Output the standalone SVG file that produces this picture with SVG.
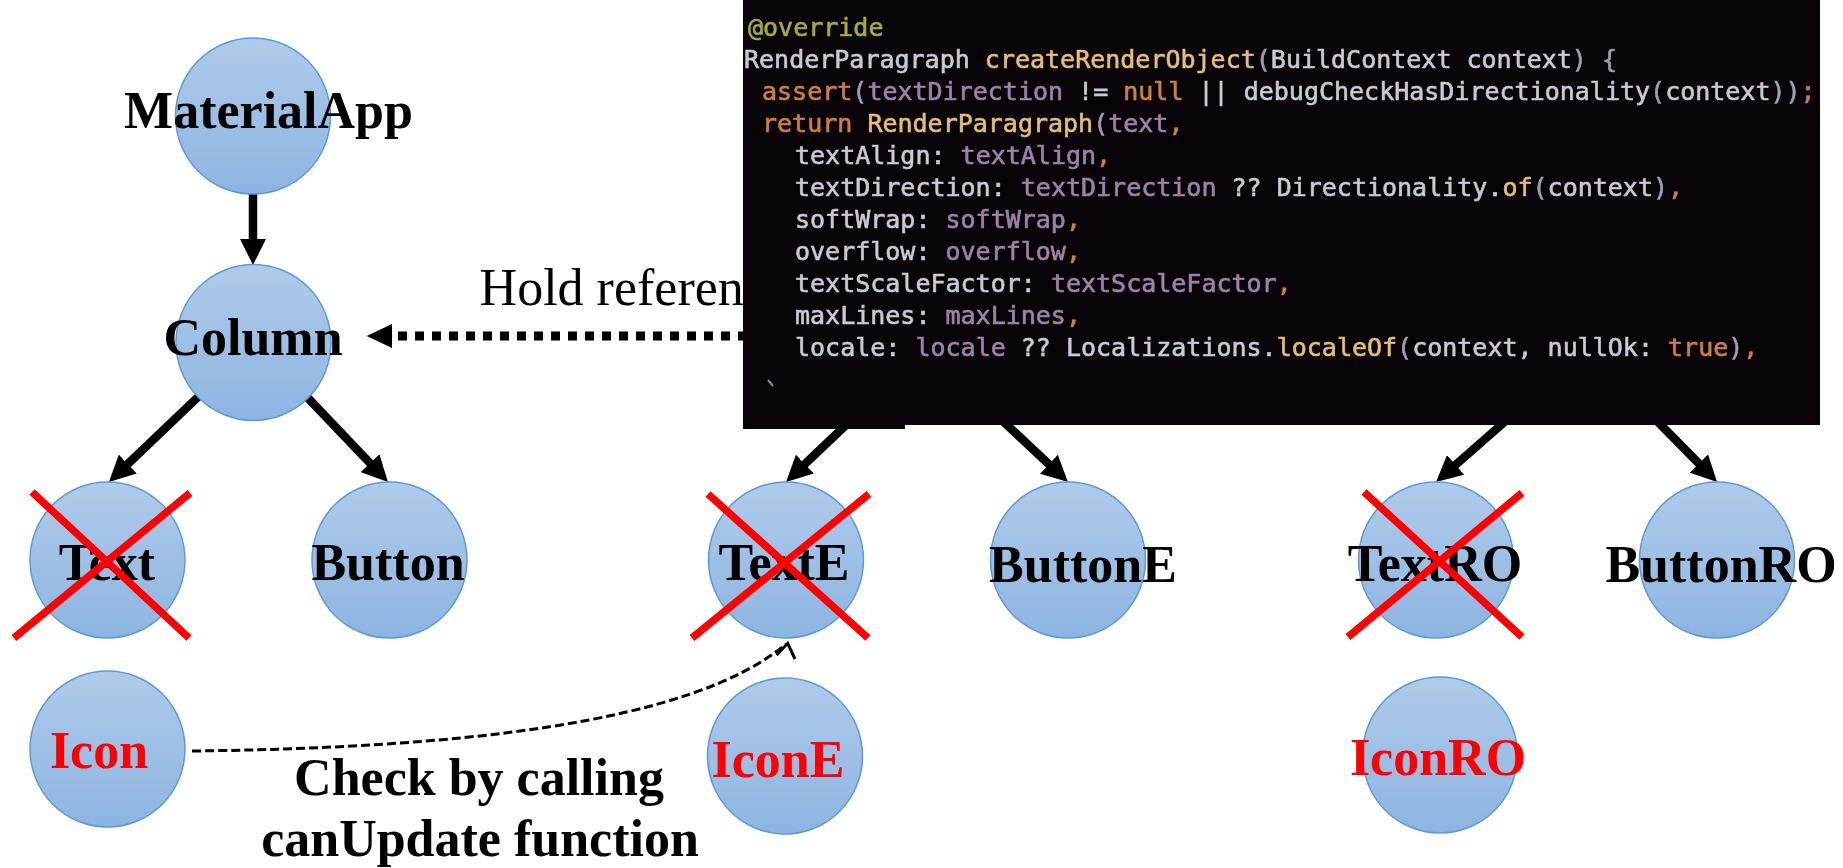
<svg xmlns="http://www.w3.org/2000/svg" width="1843" height="868" viewBox="0 0 1843 868">
  <defs>
    <linearGradient id="nodeFill" x1="0" y1="0" x2="0" y2="1">
      <stop offset="0" stop-color="#AFCBEA"/>
      <stop offset="1" stop-color="#8DB4E1"/>
    </linearGradient>
    <marker id="arrow" markerUnits="userSpaceOnUse" markerWidth="26" markerHeight="26" viewBox="0 0 26 26" refX="11" refY="13" orient="auto">
      <path d="M0,0 L26,13 L0,26 z" fill="#000"/>
    </marker>
    <filter id="soft" x="-2%" y="-2%" width="104%" height="104%">
      <feGaussianBlur stdDeviation="0.55"/>
    </filter>
  </defs>
  <style>
    .node ellipse { fill: url(#nodeFill); stroke: #5B9BD5; stroke-width: 1.5; }
    .lbl { font-family: "Liberation Serif", "Times New Roman", serif; font-weight: bold; font-size: 52px; text-anchor: middle; fill: #000; }
    .lbl.red { fill: #FF0000; }
    .note { font-family: "Liberation Serif", "Times New Roman", serif; font-size: 52px; fill: #000; }
    .cross { stroke: #FF0000; stroke-width: 7.5; fill: none; }
    .edge { stroke: #000; stroke-width: 8.5; fill: none; marker-end: url(#arrow); }
    .ref { stroke: #000; stroke-width: 9; stroke-dasharray: 9 8; fill: none; }
    .check { stroke: #000; stroke-width: 3; stroke-dasharray: 9 4; fill: none; }
    .code { font-family: "DejaVu Sans Mono", "Liberation Mono", monospace; font-size: 25px; white-space: pre; fill: #CBCAD2; stroke: #CBCAD2; stroke-width: 0.6; }
    .an { fill: #A5AC40; stroke: #A5AC40; }
    .kw { fill: #D0803C; stroke: #D0803C; }
    .fn { fill: #E6BF72; stroke: #E6BF72; }
    .fd { fill: #9C84A8; stroke: #9C84A8; }
    .pn { fill: #A29FB0; stroke: #A29FB0; }
  </style>

  <!-- connectors -->
  <g id="connectors">
    <line class="edge" x1="253" y1="193" x2="253" y2="250"/>
    <line class="edge" x1="198" y1="397" x2="119.8" y2="471.6"/>
    <line class="edge" x1="307" y1="397" x2="377.6" y2="471.1"/>
    <line class="edge" x1="858.5" y1="413.2" x2="796.9" y2="471.7"/>
    <line class="edge" x1="994.9" y1="413.7" x2="1057" y2="471.8"/>
    <line class="edge" x1="1511.2" y1="416.1" x2="1447.3" y2="472.1"/>
    <line class="edge" x1="1646.9" y1="410.7" x2="1706.5" y2="471.3"/>

    <!-- reference held by the element -->
    <line class="ref" x1="398" y1="336" x2="760" y2="336"/>
    <polygon points="366.7,336 392,324 392,348" fill="#000"/>
    <text class="note" x="479.6" y="305">Hold referen</text>

    <!-- canUpdate check -->
    <path class="check" d="M192,751 C450,748 690,725 786,644"/>
    <polyline points="776.7,655 787.7,643.3 795,659" fill="none" stroke="#000" stroke-width="3"/>
    <text class="lbl" x="479" y="795">Check by calling</text>
    <text class="lbl" x="480" y="856">canUpdate function</text>
  </g>

  <!-- widget tree -->
  <g id="node-materialapp" class="node">
    <ellipse cx="253" cy="116" rx="77.5" ry="78"/>
    <text class="lbl" x="268.5" y="128">MaterialApp</text>
  </g>
  <g id="node-column" class="node">
    <ellipse cx="253.5" cy="342.5" rx="77.5" ry="78"/>
    <text class="lbl" x="253" y="355">Column</text>
  </g>
  <g id="node-text" class="node">
    <ellipse cx="107.5" cy="560" rx="77.5" ry="78"/>
    <text class="lbl" x="107" y="580">Text</text>
    <line class="cross" x1="32" y1="492" x2="189" y2="638"/>
    <line class="cross" x1="14" y1="638" x2="190" y2="493"/>
  </g>
  <g id="node-button" class="node">
    <ellipse cx="389.5" cy="560" rx="77.5" ry="78"/>
    <text class="lbl" x="388" y="580">Button</text>
  </g>
  <g id="node-icon" class="node">
    <ellipse cx="107.5" cy="749" rx="77.5" ry="78"/>
    <text class="lbl red" x="99" y="768">Icon</text>
  </g>

  <!-- element tree -->
  <g id="node-texte" class="node">
    <ellipse cx="786" cy="560" rx="77.5" ry="78"/>
    <text class="lbl" x="784" y="580">TextE</text>
    <line class="cross" x1="708" y1="494" x2="868" y2="638"/>
    <line class="cross" x1="692" y1="638" x2="869" y2="494"/>
  </g>
  <g id="node-buttone" class="node">
    <ellipse cx="1068" cy="560" rx="77.5" ry="78"/>
    <text class="lbl" x="1083" y="582">ButtonE</text>
  </g>
  <g id="node-icone" class="node">
    <ellipse cx="785" cy="756" rx="77.5" ry="78"/>
    <text class="lbl red" x="778" y="777">IconE</text>
  </g>

  <!-- render object tree -->
  <g id="node-textro" class="node">
    <ellipse cx="1436" cy="560" rx="77.5" ry="78"/>
    <text class="lbl" x="1435" y="581">TextRO</text>
    <line class="cross" x1="1364" y1="492" x2="1522" y2="637"/>
    <line class="cross" x1="1348" y1="637" x2="1522" y2="493"/>
  </g>
  <g id="node-buttonro" class="node">
    <ellipse cx="1717" cy="560" rx="77.5" ry="78"/>
    <text class="lbl" x="1721" y="582">ButtonRO</text>
  </g>
  <g id="node-iconro" class="node">
    <ellipse cx="1440" cy="755" rx="77.5" ry="78"/>
    <text class="lbl red" x="1438" y="775">IconRO</text>
  </g>

  <!-- createRenderObject source listing -->
  <g id="code-panel">
    <rect x="743" y="0" width="1077" height="425" fill="#070307"/>
    <rect x="743" y="420" width="162" height="9" fill="#070307"/>
    <g filter="url(#soft)">
      <text class="code" x="748" y="36"><tspan class="an">@override</tspan></text>
      <text class="code" x="744" y="68">RenderParagraph <tspan class="fn">createRenderObject</tspan><tspan class="pn">(</tspan>BuildContext context<tspan class="pn">) {</tspan></text>
      <text class="code" x="762" y="100"><tspan class="kw">assert</tspan><tspan class="pn">(</tspan><tspan class="fd">textDirection</tspan> != <tspan class="kw">null</tspan> || debugCheckHasDirectionality<tspan class="pn">(</tspan>context<tspan class="pn">))</tspan><tspan class="kw">;</tspan></text>
      <text class="code" x="762" y="132"><tspan class="kw">return</tspan> <tspan class="fn">RenderParagraph</tspan><tspan class="pn">(</tspan><tspan class="fd">text</tspan><tspan class="kw">,</tspan></text>
      <text class="code" x="795" y="164">textAlign: <tspan class="fd">textAlign</tspan><tspan class="kw">,</tspan></text>
      <text class="code" x="795" y="196">textDirection: <tspan class="fd">textDirection</tspan> ?? Directionality.<tspan class="fn">of</tspan><tspan class="pn">(</tspan>context<tspan class="pn">)</tspan><tspan class="kw">,</tspan></text>
      <text class="code" x="795" y="228">softWrap: <tspan class="fd">softWrap</tspan><tspan class="kw">,</tspan></text>
      <text class="code" x="795" y="260">overflow: <tspan class="fd">overflow</tspan><tspan class="kw">,</tspan></text>
      <text class="code" x="795" y="292">textScaleFactor: <tspan class="fd">textScaleFactor</tspan><tspan class="kw">,</tspan></text>
      <text class="code" x="795" y="324">maxLines: <tspan class="fd">maxLines</tspan><tspan class="kw">,</tspan></text>
      <text class="code" x="795" y="356">locale: <tspan class="fd">locale</tspan> ?? Localizations.<tspan class="fn">localeOf</tspan><tspan class="pn">(</tspan>context, nullOk: <tspan class="kw">true</tspan><tspan class="pn">)</tspan><tspan class="kw">,</tspan></text>
      <line x1="768" y1="380" x2="773" y2="386" stroke="#8E8A98" stroke-width="2"/>
    </g>
  </g>
</svg>
